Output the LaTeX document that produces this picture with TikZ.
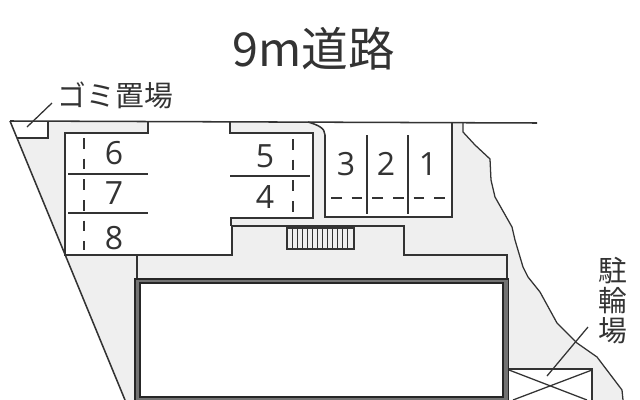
\documentclass[tikz,border=0pt]{standalone}
\usepackage{fontspec}
\setmainfont{Noto Sans CJK JP}
\newfontfamily\digitfont{Open Sans}
\definecolor{site}{HTML}{EFEFEF}
\definecolor{ink}{HTML}{333333}
\tikzset{
  wall/.style={draw=ink,line width=1.15pt},
  thin wall/.style={draw=ink,line width=0.95pt},
  lot/.style={fill=white,draw=none},
  stall/.style={draw=ink,line width=0.95pt},
  stalldash/.style={draw=ink,line width=0.95pt,dash pattern=on 7.9pt off 7.6pt},
  num/.style={font=\digitfont\fontsize{24pt}{24pt}\selectfont,text=ink,inner sep=0pt},
  jp/.style={font=\fontsize{21.6pt}{21.6pt}\selectfont,text=ink,inner sep=0pt},
}
\begin{document}
\begin{tikzpicture}[x=0.75pt,y=-0.75pt]
\useasboundingbox (0,0) rectangle (640,400);
\begin{scope}
\clip (0,0) rectangle (640,400);
% site
\fill[site] (10,121) -- (463,122) -- (463,132) -- (475,145) -- (490,159) -- (491,180) -- (495,197) -- (512,227) -- (515,240) -- (523,267) -- (528,277) -- (540,292) -- (557,323) -- (577,343) -- (597,357) -- (622,390) -- (623,400) -- (125,400) -- cycle;
% white lots
\fill[lot] (148,122) -- (230,122) -- (230,133) -- (313,133) -- (313,218) -- (231,218) -- (232,226) -- (232,255) -- (65,255) -- (65,133) -- (148,133) -- cycle;
\fill[lot] (308,122) .. controls (318,125) and (325,128) .. (325,135) -- (325,217) -- (452,217) -- (452,122) -- cycle;
\fill[lot] (10,121) -- (48,121) -- (48,138) -- (17,138) -- cycle;
\fill[lot] (508,369) rectangle (592,400);
% boundaries
\draw[wall] (10,121) -- (537,123);
\draw[wall] (10,121) -- (125,400);
\draw[thin wall] (463,123) -- (463,132) -- (475,145) -- (490,159) -- (491,180) -- (495,197) -- (512,227) -- (515,240) -- (523,267) -- (528,277) -- (540,292) -- (557,323) -- (577,343) -- (597,357) -- (622,390) -- (623,400);
% garbage box
\draw[thin wall] (48,121) -- (48,138) -- (17,138);
% left and right stalls outline
\draw[wall] (148,122) -- (148,133) -- (65,133) -- (65,255) -- (232,255) -- (232,226) -- (404,226) -- (404,255) -- (507,255) -- (507,279);
\draw[wall] (230,122) -- (230,133) -- (313,133) -- (313,218) -- (231,218) -- (231,226);
\draw[wall] (137,255) -- (137,279);
% right lot
\draw[wall] (308,122) .. controls (318,125) and (325,128) .. (325,135) -- (325,217) -- (452,217) -- (452,122);
% dividers
\draw[stall] (68,174) -- (148,174) (68,213) -- (148,213) (230,176) -- (310,176);
\draw[stalldash] (84,138) -- (84,250);
\draw[stalldash] (293,139) -- (293,213);
\draw[stall] (367,135) -- (367,214) (408,135) -- (408,214);
\draw[stalldash] (331,198) -- (447,198);
% stairs
\draw[thin wall] (287,228) rectangle (354,249);
\foreach \x in {292,297,302,307,312,317,322,327,332,337,342,347}
  \draw[draw=ink,line width=0.6pt] (\x,228) -- (\x,249);
% building
\fill[black!55] (135,278) rectangle (509,420);
\fill[white] (140,283) rectangle (503,397);
\draw[black!85,line width=1pt] (135,279) rectangle (508.5,420);
\draw[black!85,line width=1pt] (140,283) rectangle (503,397);
% bike shelter
\draw[thin wall] (509,369) -- (592,369) -- (592,400);
\draw[stall] (509,370) -- (587,400);
\draw[stall] (592,370) -- (513,400);
\end{scope}
% labels
\node[jp,font=\fontsize{35pt}{35pt}\selectfont] (title) at (314,49) {9m道路};
\node[jp] (gomi) at (115.5,95) {ゴミ置場};
\node[jp] (bikeA) at (612.5,271) {駐};
\node[jp] (bikeB) at (612.5,301) {輪};
\node[jp] (bikeC) at (612.5,331) {場};
\node[num] (n6) at (114,153) {6};
\node[num] (n7) at (114,193) {7};
\node[num] (n8) at (114,238) {8};
\node[num] (n5) at (265,156) {5};
\node[num] (n4) at (265,197) {4};
\node[num] (n3) at (346,164) {3};
\node[num] (n2) at (386,164) {2};
\node[num] (n1) at (428,164) {1};
% leaders
\coordinate (gomiend) at (52,103);
\coordinate (gomibox) at (27,127);
\coordinate (bikeend) at (588,327);
\coordinate (bikebox) at (547,376);
\draw[stall] (gomiend) -- (gomibox);
\draw[stall] (bikeend) -- (bikebox);
\end{tikzpicture}
\end{document}
